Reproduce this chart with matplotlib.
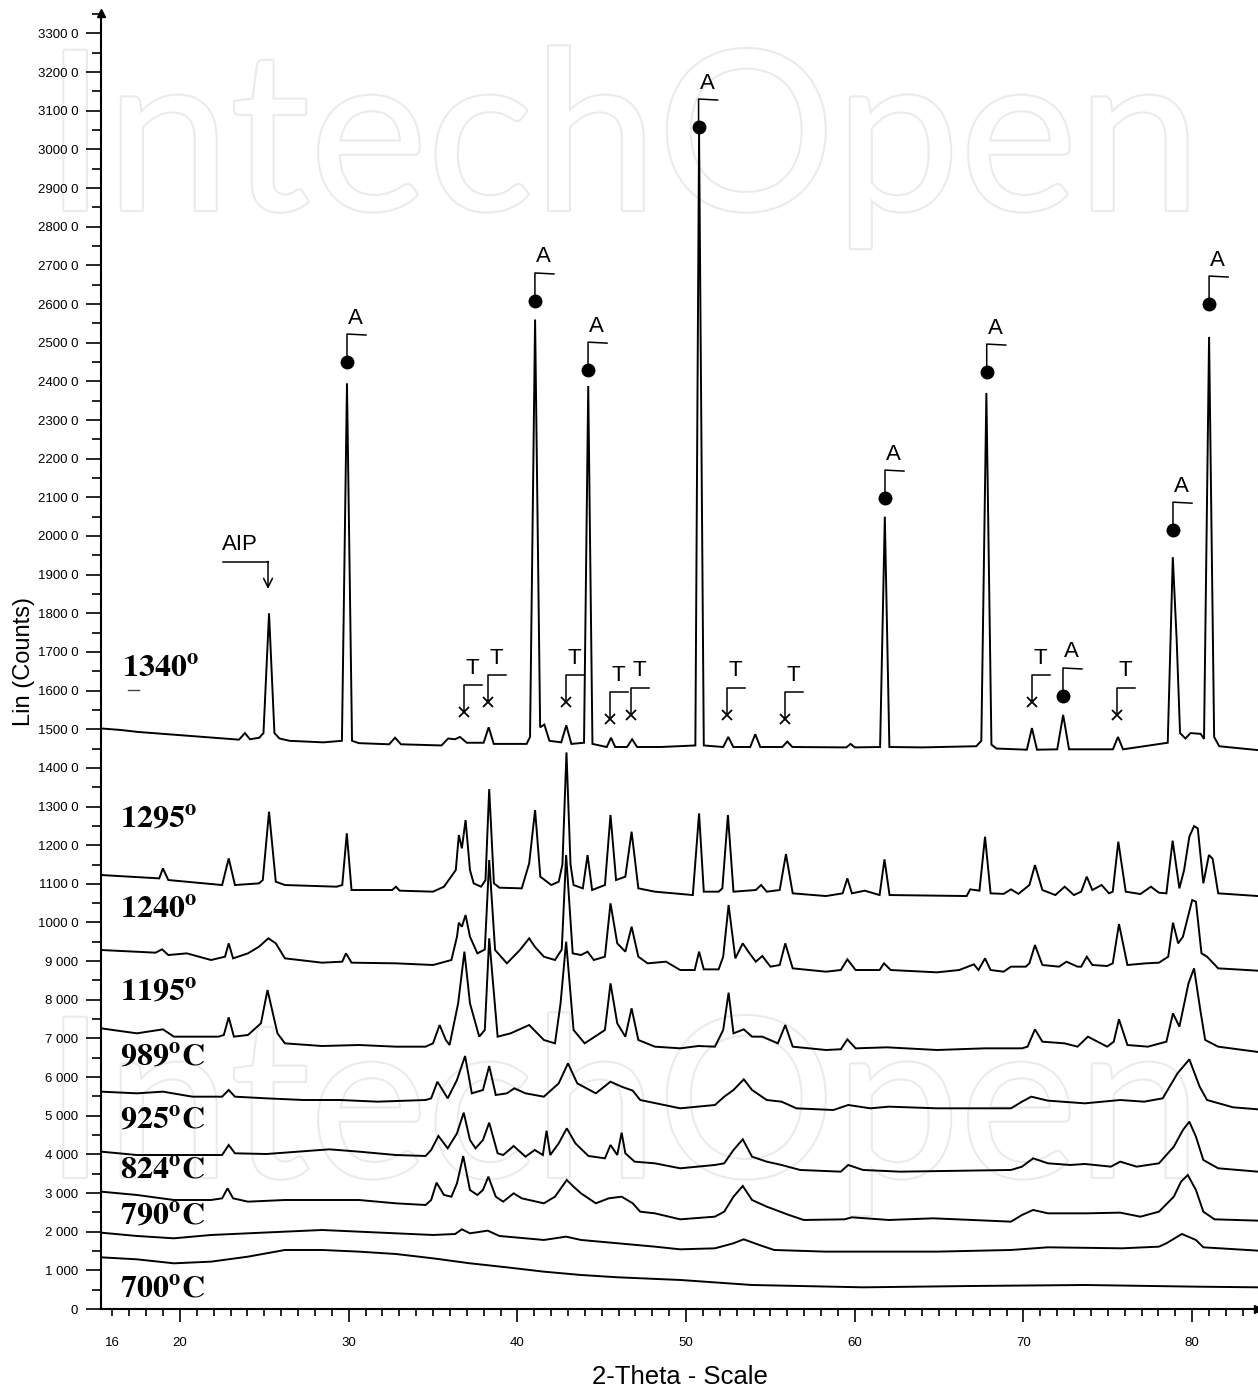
import numpy as np
import matplotlib
matplotlib.use("Agg")
import matplotlib.pyplot as plt
from matplotlib.ticker import MultipleLocator, FixedLocator, FuncFormatter
import matplotlib.patheffects as pe

plt.rcParams['font.family'] = ['Liberation Sans', 'DejaVu Sans']
plt.rcParams['mathtext.fontset'] = 'stix'

# ---------------- data (2-theta in degrees, intensity in counts) ----------------
x_limits = (15.32, 83.9)
y_limits = (0, 33530)

curve_1340 = [(15.32, 15020), (16.5, 14980), (17.5, 14930), (19.0, 14880), (20.5, 14830), (22.0, 14780),
              (23.5, 14730), (23.85, 14900), (24.15, 14740), (24.7, 14780), (24.95, 14900), (25.28, 18000),
              (25.6, 14900), (25.9, 14760), (26.5, 14700), (27.5, 14680), (28.5, 14660), (29.6, 14700),
              (29.9, 23950), (30.2, 14700), (30.6, 14640), (32.4, 14610), (32.75, 14780), (33.1, 14610),
              (35.5, 14580), (35.9, 14760), (36.3, 14740), (36.6, 14800), (37.0, 14650), (38.0, 14650),
              (38.3, 15050), (38.6, 14620), (40.55, 14620), (40.75, 14800), (41.05, 25600), (41.35, 15050),
              (41.6, 15120), (41.9, 14700), (42.6, 14660), (42.9, 15100), (43.2, 14620), (43.95, 14650),
              (44.2, 23880), (44.45, 14620), (45.3, 14540), (45.55, 14780), (45.8, 14540), (46.5, 14540),
              (46.8, 14740), (47.1, 14540), (48.5, 14540), (50.55, 14580), (50.77, 30400), (51.05, 14580),
              (52.2, 14540), (52.5, 14800), (52.8, 14540), (53.8, 14540), (54.1, 14870), (54.4, 14540),
              (55.7, 14540), (56.0, 14680), (56.3, 14540), (59.5, 14530), (59.75, 14620), (60.0, 14530),
              (61.5, 14540), (61.78, 20500), (62.05, 14540), (64.0, 14530), (67.2, 14560), (67.5, 14700),
              (67.8, 23700), (68.1, 14600), (68.4, 14500), (70.2, 14470), (70.5, 15030), (70.8, 14470),
              (72.0, 14480), (72.35, 15370), (72.7, 14480), (75.3, 14480), (75.6, 14800), (75.9, 14480),
              (78.55, 14650), (78.85, 19450), (79.08, 17300), (79.28, 14900), (79.6, 14760), (79.9, 14900),
              (80.5, 14880), (80.7, 14750), (81.0, 25150), (81.3, 14800), (81.6, 14560), (82.5, 14520),
              (83.9, 14460)]

curve_1295 = [(15.32, 11228), (18.77, 11141), (18.99, 11400), (19.31, 11098), (22.5, 10969), (22.89, 11659),
              (23.26, 10969), (24.69, 11012), (24.91, 11098), (25.28, 12866), (25.68, 11055), (26.22, 10969),
              (29.29, 10926), (29.62, 10969), (29.89, 12306), (30.17, 10840), (30.61, 10840), (32.58, 10840),
              (32.8, 10926), (33.02, 10823), (35.0, 10797), (35.65, 10926), (36.35, 11357), (36.53, 12262),
              (36.71, 11918), (36.93, 12650), (37.19, 11357), (37.41, 11012), (37.85, 10926), (38.11, 11098),
              (38.33, 13450), (38.61, 11012), (38.94, 10900), (40.26, 10883), (40.7, 11530), (41.05, 12909),
              (41.36, 11185), (42.01, 10969), (42.45, 11055), (42.67, 11500), (42.91, 14400), (43.15, 11500),
              (43.33, 10969), (43.88, 10883), (44.16, 11745), (44.43, 10840), (45.19, 10969), (45.52, 12780),
              (45.85, 11098), (46.4, 11185), (46.77, 12349), (47.17, 10883), (48.15, 10797), (50.4, 10710),
              (50.77, 12823), (51.05, 10797), (51.93, 10797), (52.15, 10883), (52.48, 12780), (52.81, 10797),
              (54.13, 10840), (54.45, 10969), (54.78, 10797), (55.55, 10840), (55.92, 11771), (56.32, 10754),
              (58.29, 10684), (59.28, 10754), (59.56, 11141), (59.83, 10754), (60.59, 10823), (61.47, 10710),
              (61.76, 11633), (62.06, 10710), (66.63, 10684), (66.84, 10857), (67.39, 10823), (67.72, 12219),
              (68.05, 10754), (68.82, 10740), (69.26, 10857), (69.7, 10740), (70.35, 10969), (70.68, 11486),
              (71.12, 10840), (71.89, 10710), (72.44, 10926), (72.99, 10710), (73.42, 10797), (73.75, 11185),
              (74.08, 10840), (74.63, 10969), (75.07, 10754), (75.29, 10797), (75.62, 12090), (76.06, 10797),
              (76.93, 10736), (77.55, 10926), (78.03, 10770), (78.47, 10754), (78.84, 12116), (79.24, 10883),
              (79.52, 11357), (79.83, 12219), (80.11, 12495), (80.33, 12435), (80.66, 11012), (80.99, 11745),
              (81.21, 11650), (81.54, 10754), (83.9, 10684)]

curve_1240 = [(15.32, 9288), (18.55, 9219), (18.94, 9305), (19.31, 9158), (20.41, 9201), (21.84, 9029),
              (22.67, 9115), (22.89, 9460), (23.15, 9072), (24.03, 9201), (24.69, 9374), (25.24, 9590),
              (25.68, 9460), (26.22, 9072), (28.42, 8960), (29.62, 8986), (29.84, 9201), (30.17, 8960),
              (32.8, 8943), (35.0, 8900), (36.09, 9029), (36.42, 9632), (36.53, 9995), (36.71, 9891),
              (36.93, 10193), (37.19, 9632), (37.63, 9201), (38.07, 9300), (38.33, 11616), (38.68, 9288),
              (39.38, 8943), (40.15, 9288), (40.7, 9590), (41.03, 9374), (41.57, 9115), (42.23, 9029),
              (42.63, 9300), (42.89, 11745), (43.28, 9201), (43.77, 9158), (44.16, 9245), (44.53, 9029),
              (45.19, 9115), (45.52, 10495), (45.92, 9460), (46.4, 9245), (46.77, 9891), (47.17, 9115),
              (47.72, 8943), (48.81, 8986), (49.65, 8770), (50.51, 8770), (50.77, 9245), (51.05, 8787),
              (51.93, 8787), (52.2, 9115), (52.52, 10452), (52.92, 9072), (53.36, 9460), (53.69, 9245),
              (54.13, 8986), (54.52, 9132), (55.0, 8857), (55.55, 8900), (55.88, 9460), (56.32, 8813),
              (58.29, 8727), (59.17, 8770), (59.56, 9046), (60.05, 8770), (61.47, 8770), (61.73, 8943),
              (62.13, 8770), (64.87, 8710), (66.19, 8770), (67.06, 8917), (67.33, 8770), (67.72, 9072),
              (68.05, 8770), (68.82, 8727), (69.26, 8857), (70.13, 8857), (70.35, 8943), (70.68, 9417),
              (71.12, 8900), (72.11, 8857), (72.55, 8986), (73.2, 8857), (73.42, 8857), (73.75, 9115),
              (74.08, 8900), (74.96, 8874), (75.29, 8943), (75.66, 9960), (76.16, 8900), (77.26, 8943),
              (78.03, 8960), (78.58, 9115), (78.86, 9995), (79.17, 9460), (79.45, 9632), (80.0, 10581),
              (80.22, 10538), (80.55, 9201), (80.88, 9115), (81.54, 8813), (83.9, 8753)]

curve_1195 = [(15.32, 7261), (17.45, 7132), (18.99, 7235), (19.64, 7046), (20.52, 7046), (22.28, 7046),
              (22.6, 7089), (22.89, 7546), (23.2, 7046), (24.03, 7089), (24.8, 7391), (25.19, 8253),
              (25.78, 7132), (26.22, 6873), (28.42, 6804), (30.61, 6830), (32.8, 6787), (34.56, 6787),
              (35.0, 6873), (35.39, 7347), (35.76, 6960), (35.98, 6830), (36.49, 7908), (36.86, 9245),
              (37.19, 7908), (37.74, 7046), (38.07, 7220), (38.33, 9590), (38.83, 7046), (39.6, 7132),
              (40.26, 7261), (40.7, 7347), (41.57, 6960), (42.23, 6873), (42.56, 7908), (42.89, 9503),
              (43.33, 7218), (43.99, 6873), (45.19, 7218), (45.52, 8425), (45.92, 7391), (46.4, 7046),
              (46.77, 7779), (47.17, 6960), (48.15, 6787), (49.65, 6744), (50.73, 6804), (51.71, 6787),
              (52.2, 7218), (52.52, 8184), (52.81, 7132), (53.42, 7235), (53.91, 7046), (54.52, 7046),
              (55.44, 6873), (55.88, 7347), (56.32, 6787), (58.29, 6701), (59.17, 6720), (59.56, 6976),
              (60.05, 6744), (61.91, 6770), (64.87, 6701), (67.72, 6744), (69.91, 6744), (70.24, 6787),
              (70.68, 7235), (71.12, 6916), (72.44, 6873), (73.2, 6787), (73.82, 7046), (74.96, 6787),
              (75.35, 6916), (75.66, 7494), (76.16, 6830), (77.37, 6787), (78.47, 6916), (78.86, 7649),
              (79.24, 7305), (79.78, 8425), (80.11, 8813), (80.48, 7736), (80.77, 6960), (81.54, 6787),
              (83.9, 6650)]

curve_989 = [(15.32, 5623), (17.45, 5580), (18.99, 5623), (20.74, 5493), (22.5, 5493), (22.89, 5666),
             (23.26, 5493), (25.13, 5450), (27.32, 5407), (29.51, 5407), (31.71, 5364), (34.56, 5407),
             (34.89, 5450), (35.26, 5881), (35.87, 5450), (36.42, 5925), (36.9, 6545), (37.3, 5580),
             (37.96, 5666), (38.33, 6287), (38.72, 5537), (39.38, 5580), (39.82, 5709), (40.48, 5580),
             (41.57, 5493), (42.45, 5838), (43.0, 6356), (43.55, 5838), (44.65, 5580), (45.52, 5881),
             (46.18, 5752), (46.84, 5649), (47.28, 5407), (49.65, 5192), (51.71, 5278), (52.26, 5493),
             (52.81, 5666), (53.42, 5942), (53.91, 5666), (54.78, 5407), (55.66, 5364), (56.54, 5192),
             (58.73, 5148), (59.61, 5278), (60.92, 5192), (62.02, 5235), (64.87, 5192), (69.26, 5192),
             (69.91, 5364), (70.46, 5493), (71.45, 5390), (73.64, 5321), (75.73, 5407), (77.15, 5364),
             (78.25, 5450), (79.13, 6097), (79.83, 6459), (80.44, 5752), (80.88, 5407), (82.42, 5218),
             (83.9, 5166)]

curve_925 = [(15.32, 4071), (17.45, 3984), (20.74, 3984), (22.5, 3984), (22.89, 4243), (23.26, 4028),
             (25.13, 4010), (28.85, 4131), (30.61, 4071), (32.8, 3984), (34.56, 3959), (34.89, 4114),
             (35.32, 4476), (35.87, 4157), (36.42, 4545), (36.82, 5080), (37.19, 4372), (37.52, 4157),
             (37.96, 4372), (38.33, 4821), (38.83, 4028), (39.16, 3984), (39.78, 4217), (40.48, 3941),
             (41.03, 4114), (41.51, 3984), (41.73, 4614), (41.95, 3984), (42.45, 4286), (42.93, 4674),
             (43.44, 4286), (44.21, 3959), (45.19, 3898), (45.52, 4243), (45.92, 3984), (46.18, 4562),
             (46.4, 4028), (46.95, 3812), (48.15, 3769), (49.65, 3640), (51.71, 3726), (52.26, 3769),
             (52.81, 4114), (53.36, 4390), (53.91, 3941), (54.78, 3812), (55.66, 3726), (56.76, 3597),
             (59.17, 3553), (59.61, 3726), (60.49, 3597), (62.68, 3553), (69.26, 3597), (69.91, 3683),
             (70.57, 3898), (71.45, 3769), (72.77, 3726), (73.64, 3752), (75.18, 3683), (75.73, 3812),
             (76.71, 3683), (78.03, 3769), (78.91, 4200), (79.45, 4631), (79.83, 4847), (80.22, 4459),
             (80.66, 3855), (81.54, 3640), (83.9, 3553)]

curve_824 = [(15.32, 3036), (17.45, 2950), (19.64, 2820), (21.84, 2820), (22.5, 2863), (22.82, 3122),
             (23.15, 2863), (24.03, 2777), (26.22, 2820), (28.42, 2820), (30.61, 2820), (32.8, 2734),
             (34.56, 2691), (34.89, 2820), (35.21, 3269), (35.65, 2950), (36.09, 2906), (36.42, 3251),
             (36.79, 3958), (37.19, 3079), (37.63, 2950), (37.96, 3079), (38.28, 3424), (38.72, 2906),
             (39.16, 2777), (39.78, 2993), (40.26, 2863), (41.57, 2734), (42.23, 2906), (42.93, 3338),
             (43.33, 3165), (43.77, 2993), (44.65, 2734), (45.41, 2863), (46.18, 2906), (46.84, 2734),
             (47.28, 2518), (48.15, 2475), (49.65, 2320), (51.71, 2389), (52.26, 2518), (52.81, 2906),
             (53.36, 3183), (53.91, 2820), (54.78, 2648), (56.1, 2432), (56.98, 2303), (59.39, 2320),
             (59.83, 2372), (62.02, 2303), (64.65, 2346), (69.26, 2260), (69.91, 2432), (70.57, 2562),
             (71.45, 2475), (73.75, 2475), (75.73, 2493), (76.93, 2389), (78.03, 2518), (78.91, 2906),
             (79.34, 3295), (79.74, 3467), (80.22, 3079), (80.66, 2518), (81.32, 2320), (83.9, 2286)]

curve_790 = [(15.32, 1975), (17.45, 1889), (19.64, 1829), (21.84, 1915), (24.03, 1958), (26.22, 2001),
             (28.42, 2044), (30.61, 2001), (32.8, 1958), (35.0, 1915), (36.31, 1940), (36.71, 2062),
             (37.19, 1958), (38.24, 2027), (38.94, 1889), (41.57, 1786), (42.89, 1872), (43.77, 1786),
             (45.96, 1700), (48.15, 1613), (49.65, 1544), (51.71, 1570), (52.81, 1700), (53.42, 1803),
             (54.34, 1656), (55.22, 1527), (58.29, 1484), (64.87, 1484), (69.26, 1527), (71.45, 1596),
             (75.84, 1570), (78.03, 1613), (78.47, 1700), (79.39, 1941), (80.22, 1786), (80.66, 1596),
             (83.9, 1510)]

curve_700 = [(15.32, 1337), (17.45, 1285), (19.64, 1182), (21.84, 1225), (24.03, 1354), (26.22, 1527),
             (28.42, 1527), (30.61, 1484), (32.8, 1423), (35.0, 1311), (37.19, 1182), (39.38, 1078),
             (41.57, 966), (43.77, 880), (45.96, 820), (49.65, 751), (53.91, 621), (60.5, 561),
             (67.06, 596), (73.64, 621), (80.22, 578), (83.9, 561)]

curves = [curve_1340, curve_1295, curve_1240, curve_1195, curve_989,
          curve_925, curve_824, curve_790, curve_700]

temp_labels = [r'$\mathbf{1340^{o}}$', r'$\mathbf{1295^{o}}$', r'$\mathbf{1240^{o}}$', r'$\mathbf{1195^{o}}$',
               r'$\mathbf{989^{o}C}$', r'$\mathbf{925^{o}C}$', r'$\mathbf{824^{o}C}$',
               r'$\mathbf{790^{o}C}$', r'$\mathbf{700^{o}C}$']
temp_label_x = [16.56, 16.44, 16.44, 16.44, 16.44, 16.44, 16.44, 16.44, 16.44]
temp_label_y = [16376, 12470, 10140, 7990, 6312, 4682, 3389, 2199, 310]

# phase annotations on the 1340 pattern
A_x = [29.9, 41.04, 44.19, 50.74, 61.79, 67.82, 72.34, 78.86, 81.0]
A_y = [24500, 26080, 24290, 30580, 20980, 24240, 15860, 20150, 26000]
T_x = [36.83, 38.26, 42.88, 45.49, 46.73, 52.42, 55.86, 70.5, 75.54]
T_y = [15445, 15700, 15700, 15260, 15370, 15370, 15260, 15700, 15370]
AIP_x = 25.22
AIP_tip_y = 18630

x_major = [20, 30, 40, 50, 60, 70, 80]

# ---------------- figure ----------------
W, H = 1258, 1393
fig = plt.figure(figsize=(W / 100, H / 100), dpi=100)
ax = fig.add_axes([101 / W, 84 / H, 1 - 101 / W, 1296 / H])
ax.patch.set_visible(False)

# faint watermark
for base_y in (210, 1177):
    fig.text(44 / W, 1 - base_y / H, 'IntechOpen', fontsize=160, family='Lato', color='white',
             va='baseline', ha='left', zorder=-5,
             path_effects=[pe.withStroke(linewidth=3.0, foreground='#ebebeb')])

ax.set_xlim(*x_limits)
ax.set_ylim(*y_limits)

for c in curves:
    arr = np.array(c, dtype=float)
    ax.plot(arr[:, 0], arr[:, 1], color='black', lw=1.4, solid_joinstyle='miter', zorder=3)

for t, lx, ly in zip(temp_labels, temp_label_x, temp_label_y):
    ax.text(lx, ly, t, fontsize=23, color='black', ha='left', va='baseline', zorder=4)

# pixel -> data unit conversions for the annotation glyph geometry
px_x = (x_limits[1] - x_limits[0]) / (W - 101)
px_y = (y_limits[1] - y_limits[0]) / 1296

for x0, y0 in zip(A_x, A_y):
    ax.plot([x0, x0, x0 + 19 * px_x], [y0, y0 + 28 * px_y, y0 + 27 * px_y], color='black', lw=1.1, zorder=4)
    ax.plot([x0], [y0], 'o', ms=9, color='black', zorder=5)
    ax.text(x0 + 8.5 * px_x, y0 + 44 * px_y, 'A', fontsize=16, ha='center', va='center', zorder=5)

for x0, y0 in zip(T_x, T_y):
    ax.plot([x0, x0, x0 + 18 * px_x], [y0, y0 + 27 * px_y, y0 + 27 * px_y], color='black', lw=1.1, zorder=4)
    ax.plot([x0], [y0], 'x', ms=6.5, mew=1.3, color='black', zorder=5)
    ax.text(x0 + 8 * px_x, y0 + 44 * px_y, 'T', fontsize=16, ha='center', va='center', zorder=5)

# AIP label with bent arrow
ax.plot([AIP_x - 45 * px_x, AIP_x], [AIP_tip_y + 27 * px_y, AIP_tip_y + 27 * px_y], color='black', lw=1.1)
ax.annotate('', xy=(AIP_x, AIP_tip_y), xytext=(AIP_x, AIP_tip_y + 27.5 * px_y),
            arrowprops=dict(arrowstyle='->', lw=1.1, color='black', mutation_scale=16, shrinkA=0, shrinkB=0))
ax.text(AIP_x - 46 * px_x, AIP_tip_y + 44 * px_y, 'AIP', fontsize=16, ha='left', va='center')

# small mark under the 1340 label
ax.plot([16.92, 17.6], [16010, 16010], color='#444444', lw=1.0)

# axes styling
for s in ('top', 'right'):
    ax.spines[s].set_visible(False)
for s in ('left', 'bottom'):
    ax.spines[s].set_linewidth(1.5)

ax.yaxis.set_major_locator(MultipleLocator(1000))
ax.yaxis.set_minor_locator(MultipleLocator(500))


def yfmt(v, pos):
    v = int(round(v))
    if v == 0:
        return '0'
    s = str(v)
    if v >= 10000:
        return s[:-1] + ' ' + s[-1]
    return s[0] + ' ' + s[1:]


ax.yaxis.set_major_formatter(FuncFormatter(yfmt))
ax.xaxis.set_major_locator(FixedLocator(x_major))
ax.xaxis.set_minor_locator(MultipleLocator(1))
ax.xaxis.set_minor_formatter(FuncFormatter(lambda v, p: '16' if abs(v - 16) < 1e-6 else ''))

ax.tick_params(axis='y', which='major', length=10.8, width=1.2, labelsize=9.5, pad=5.5)
ax.tick_params(axis='y', which='minor', length=6.5, width=1.2)
ax.tick_params(axis='x', which='major', length=9.4, width=1.2, labelsize=9.5, pad=10.5)
ax.tick_params(axis='x', which='minor', length=5.0, width=1.2, labelsize=9.5, pad=14.8)

# axis-end arrows
ax.plot([0], [1], marker='^', ms=6, color='black', transform=ax.transAxes, clip_on=False)
ax.plot([1], [0], marker='>', ms=6, color='black', transform=ax.transAxes, clip_on=False)

fig.text(24 / W, 1 - 661 / H, 'Lin (Counts)', rotation=90, ha='center', va='center', fontsize=17)
fig.text(680 / W, 1 - 1377 / H, '2-Theta - Scale', ha='center', va='center', fontsize=18.5)

fig.savefig('out.png', dpi=100)
